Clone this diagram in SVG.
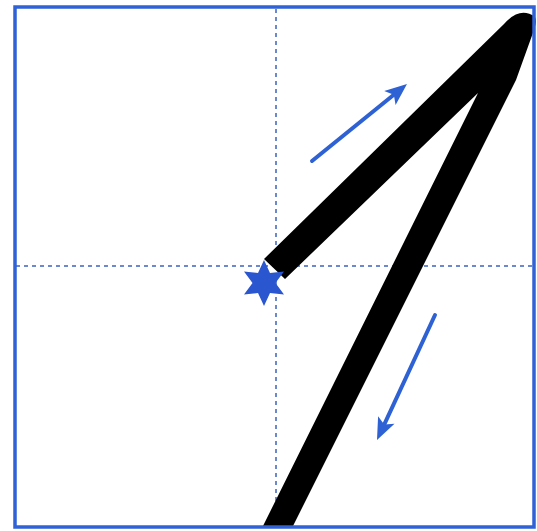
<svg xmlns="http://www.w3.org/2000/svg" width="537" height="531" viewBox="0 0 537 531">
  <style>
    .guide { stroke: #3d63c0; stroke-width: 1.5; stroke-dasharray: 4 4; fill: none; }
    .arrow { stroke: #2e62d4; stroke-width: 4; fill: none; stroke-linecap: round; }
    .head { fill: #2e62d4; }
  </style>
  <rect x="0" y="0" width="537" height="531" fill="#ffffff"/>
  <g id="guides">
    <line class="guide" x1="276" y1="9" x2="276" y2="526"/>
    <line class="guide" x1="16" y1="266" x2="533" y2="266"/>
  </g>
  <g id="stroke-one">
    <path d="M264,259 L504,24 Q520,6 535,17 Q537,22 534,30 L516,80 L292,528 L262,528 L478,93 L285,279 Z" fill="#000000"/>
  </g>
  <g id="start-star">
    <polygon fill="#2a56d0" points="264,260 270,273 284,271.5 275.5,283 284,294.5 270,293 264,306 258,293 244,294.5 252.5,283 244,271.5 258,273"/>
  </g>
  <g id="arrows">
    <line class="arrow" x1="312" y1="161" x2="393.8" y2="94.7"/>
    <polygon class="head" points="407,84 395.6,104.9 393.8,94.7 384.2,90.9"/>
    <line class="arrow" x1="435" y1="315" x2="384.2" y2="424.6"/>
    <polygon class="head" points="377,440 394.5,423.8 384.2,424.6 378.1,416.2"/>
  </g>
  <rect id="frame" x="15" y="7" width="519" height="520" fill="none" stroke="#2f62d6" stroke-width="3.5"/>
</svg>
